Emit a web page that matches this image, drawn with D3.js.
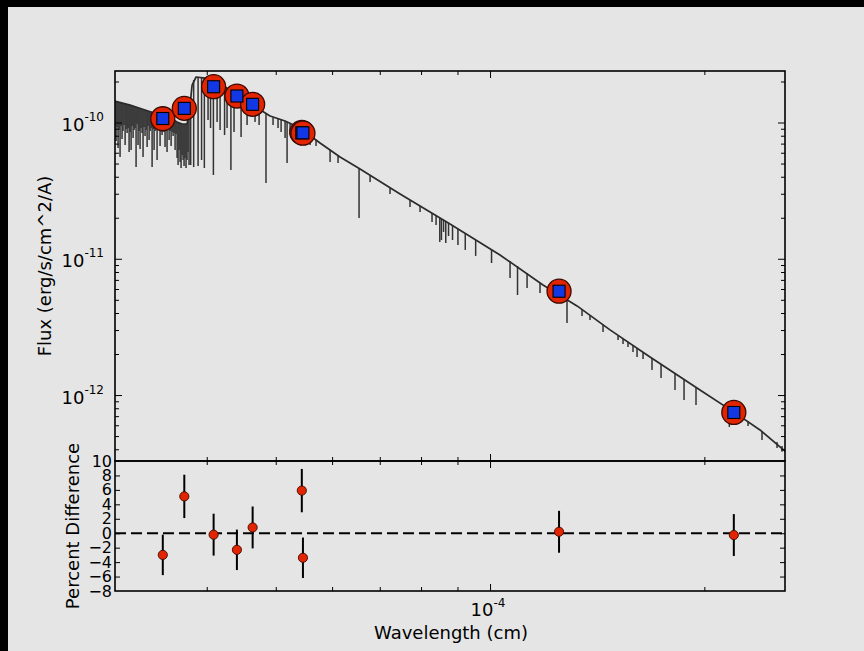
<!DOCTYPE html>
<html><head><meta charset="utf-8">
<script src="https://cdn.jsdelivr.net/npm/d3@7"></script>
<style>
html,body{margin:0;padding:0;overflow:hidden;background:#e5e5e5;width:864px;height:651px;}
svg{display:block;position:absolute;left:0;top:0;}
text{font-family:"DejaVu Sans","Bitstream Vera Sans",sans-serif;fill:#000;}
</style>
</head><body>
<svg id="chart" width="864" height="651"></svg>
<script>
// ---------------- data ----------------
// photometry (wavelength in cm, flux in erg/s/cm^2/A)
const photWave  = [3.47e-5, 3.72e-5, 4.09e-5, 4.41e-5, 4.64e-5, 5.44e-5, 5.46e-5, 1.25e-4, 2.20e-4];
const obsFlux   = [1.066e-10, 1.271e-10, 1.831e-10, 1.564e-10, 1.36e-10, 8.45e-11, 8.35e-11, 5.78e-12, 7.45e-13];
const modelFlux = [1.07e-10, 1.27e-10, 1.83e-10, 1.565e-10, 1.36e-10, 8.40e-11, 8.40e-11, 5.78e-12, 7.45e-13];
// percent difference and its error
const residual  = [-3.0, 5.1, -0.2, -2.3, 0.8, 5.9, -3.4, 0.2, -0.25];
const residErr  = [2.8, 3.0, 2.9, 2.8, 2.9, 3.0, 2.8, 2.9, 2.9];

// model spectrum: continuum knots [log10 wavelength(cm), log10 flux]
const continuum = [
 [-4.5281,-9.842],[-4.5056,-9.872],[-4.4846,-9.908],[-4.4635,-9.945],[-4.4494,-9.967],
 [-4.4396,-9.996],[-4.4326,-10.011],[-4.4256,-10.011],[-4.4214,-9.872],[-4.4185,-9.725],
 [-4.4129,-9.666],[-4.4003,-9.674],[-4.3862,-9.703],[-4.3722,-9.740],[-4.3553,-9.791],
 [-4.3371,-9.850],[-4.3202,-9.916],[-4.3090,-9.952],[-4.2879,-9.989],[-4.2669,-10.040],
 [-4.2388,-10.150],[-4.2107,-10.253],[-4.1826,-10.341],[-4.1264,-10.525],[-4.0562,-10.745],
 [-3.9860,-10.972],[-3.9256,-11.192],[-3.8778,-11.346],[-3.8315,-11.522],[-3.7753,-11.721],
 [-3.7051,-11.963],[-3.6559,-12.131],[-3.6208,-12.256],[-3.5843,-12.418]
];
// absorption lines: [log10 wavelength, log10 flux at continuum, log10 flux at line core]
const absorptionLines = [
 [-4.5253,-9.846,-10.136],[-4.5239,-9.846,-10.033],[-4.5225,-9.850,-10.187],[-4.5211,-9.850,-10.055],
 [-4.5197,-9.853,-10.253],[-4.5183,-9.853,-10.026],[-4.5169,-9.857,-10.121],[-4.5155,-9.857,-10.062],
 [-4.5141,-9.861,-10.018],[-4.5126,-9.861,-10.165],[-4.5112,-9.864,-10.048],[-4.5098,-9.864,-10.077],
 [-4.5084,-9.868,-10.040],[-4.5070,-9.868,-10.216],[-4.5056,-9.872,-10.070],[-4.5042,-9.875,-10.202],
 [-4.5028,-9.875,-10.026],[-4.5014,-9.879,-10.114],[-4.5000,-9.879,-10.055],[-4.4986,-9.883,-10.040],
 [-4.4972,-9.886,-10.327],[-4.4958,-9.886,-10.011],[-4.4944,-9.890,-10.165],[-4.4930,-9.894,-10.062],
 [-4.4916,-9.894,-10.194],[-4.4902,-9.897,-10.040],[-4.4888,-9.901,-10.077],[-4.4874,-9.901,-10.253],
 [-4.4860,-9.905,-10.033],[-4.4846,-9.908,-10.099],[-4.4831,-9.908,-10.055],[-4.4817,-9.912,-10.180],
 [-4.4803,-9.916,-10.026],[-4.4789,-9.916,-10.128],[-4.4775,-9.919,-10.062],[-4.4761,-9.919,-10.040],
 [-4.4747,-9.923,-10.327],[-4.4733,-9.927,-10.048],[-4.4719,-9.927,-10.202],[-4.4705,-9.930,-10.062],
 [-4.4691,-9.930,-10.033],[-4.4677,-9.934,-10.275],[-4.4663,-9.938,-10.055],[-4.4649,-9.941,-10.040],
 [-4.4635,-9.945,-10.172],[-4.4621,-9.945,-10.062],[-4.4607,-9.949,-10.092],[-4.4593,-9.949,-10.040],
 [-4.4579,-9.952,-10.070],[-4.4565,-9.956,-10.180],[-4.4551,-9.960,-10.055],[-4.4537,-9.960,-10.216],
 [-4.4522,-9.963,-10.048],[-4.4508,-9.967,-10.128],[-4.4494,-9.967,-10.062],[-4.4480,-9.971,-10.172],
 [-4.4466,-9.974,-10.070],[-4.4452,-9.978,-10.099],[-4.4438,-9.982,-10.077],[-4.4424,-9.989,-10.202],
 [-4.4410,-9.993,-10.084],
 [-4.4396,-9.996,-10.260],[-4.4382,-10.000,-10.312],[-4.4368,-10.004,-10.202],[-4.4354,-10.004,-10.290],
 [-4.4340,-10.007,-10.334],[-4.4326,-10.011,-10.238],[-4.4312,-10.011,-10.275],[-4.4298,-10.011,-10.319],
 [-4.4284,-10.011,-10.260],[-4.4270,-10.011,-10.334],[-4.4256,-10.011,-10.275],[-4.4242,-9.967,-10.216],
 [-4.4228,-9.916,-10.312],
 [-4.4205,-9.835,-10.312],[-4.4163,-9.688,-10.327],[-4.4101,-9.666,-10.319],[-4.4052,-9.670,-10.275],
 [-4.4013,-9.674,-10.334],[-4.3961,-9.681,-9.982],[-4.3926,-9.688,-10.040],[-4.3886,-9.696,-10.385],
 [-4.3834,-9.710,-9.996],[-4.3792,-9.721,-10.055],[-4.3729,-9.736,-10.092],[-4.3694,-9.747,-10.040],
 [-4.3640,-9.762,-10.349],[-4.3596,-9.776,-10.070],[-4.3497,-9.813,-10.106],[-4.3413,-9.835,-10.018],
 [-4.3301,-9.872,-9.996],[-4.3244,-9.894,-10.018],[-4.3147,-9.938,-10.444],[-4.3048,-9.963,-10.018],
 [-4.2978,-9.974,-10.040],[-4.2935,-9.982,-10.070],[-4.2879,-9.989,-10.114],[-4.2851,-9.996,-10.297],
 [-4.2809,-10.004,-10.092],[-4.2725,-10.026,-10.128],[-4.2598,-10.062,-10.143],[-4.2528,-10.092,-10.165],
 [-4.2444,-10.128,-10.172],[-4.2247,-10.202,-10.290],[-4.2135,-10.246,-10.297],[-4.1840,-10.334,-10.701],
 [-4.1685,-10.389,-10.437],[-4.1405,-10.481,-10.525],[-4.1124,-10.569,-10.620],[-4.0983,-10.613,-10.657],
 [-4.0815,-10.664,-10.730],[-4.0758,-10.682,-10.752],[-4.0706,-10.701,-10.877],[-4.0683,-10.708,-10.862],
 [-4.0653,-10.715,-10.803],[-4.0622,-10.726,-10.884],[-4.0583,-10.737,-10.833],[-4.0527,-10.756,-10.862],
 [-4.0451,-10.781,-10.899],[-4.0348,-10.814,-10.935],[-4.0202,-10.862,-10.979],[-3.9979,-10.932,-11.031],
 [-3.9719,-11.016,-11.141],[-3.9614,-11.053,-11.266],[-3.9480,-11.104,-11.214],[-3.9298,-11.178,-11.251],
 [-3.8919,-11.299,-11.471],[-3.8708,-11.376,-11.420],[-3.8596,-11.416,-11.449],[-3.8413,-11.486,-11.537],
 [-3.8202,-11.563,-11.596],[-3.8132,-11.588,-11.625],[-3.8062,-11.610,-11.647],[-3.7992,-11.636,-11.684],
 [-3.7935,-11.654,-11.720],[-3.7851,-11.684,-11.735],[-3.7725,-11.731,-11.816],[-3.7598,-11.776,-11.875],
 [-3.7402,-11.842,-11.963],[-3.7275,-11.886,-12.036],[-3.7107,-11.944,-12.073],[-3.6639,-12.102,-12.234],
 [-3.6376,-12.194,-12.227],[-3.6180,-12.267,-12.329],[-3.5969,-12.344,-12.388],[-3.5899,-12.373,-12.417]
];

// axes
const waveDomain  = [2.973e-5, 2.596e-4];
const fluxDomain  = [3.281e-13, 2.388e-10];
const residDomain = [-8, 10];
const xMajorTicks = [1e-4];
const xMinorTicks = [4e-5, 5e-5, 6e-5, 7e-5, 8e-5, 9e-5, 2e-4];
const xTickLabels = [["10","-4"]];
const yMajorTicks = [1e-12, 1e-11, 1e-10];
const yTickLabels = [["10","-12"],["10","-11"],["10","-10"]];
const yMinorTicks = [4e-13,5e-13,6e-13,7e-13,8e-13,9e-13,
                     2e-12,3e-12,4e-12,5e-12,6e-12,7e-12,8e-12,9e-12,
                     2e-11,3e-11,4e-11,5e-11,6e-11,7e-11,8e-11,9e-11,2e-10];
const residTicks = [-8, -6, -4, -2, 0, 2, 4, 6, 8, 10];

// ---------------- drawing ----------------
const L = 115, R = 785, T = 71, M = 461, B = 591;
const RED = "#e32400", BLUE = "#1238e6";
const svg = d3.select("#chart");
svg.append("rect").attr("x", 0).attr("y", 0).attr("width", 864).attr("height", 651).attr("fill", "#e5e5e5");
svg.append("rect").attr("x", 0).attr("y", 0).attr("width", 864).attr("height", 7).attr("fill", "#000");
svg.append("rect").attr("x", 0).attr("y", 0).attr("width", 8).attr("height", 651).attr("fill", "#000");

const x  = d3.scaleLog().domain(waveDomain).range([L, R]);
const y  = d3.scaleLog().domain(fluxDomain).range([M, T]);
const yr = d3.scaleLinear().domain(residDomain).range([B, M]);

const defs = svg.append("defs");
defs.append("clipPath").attr("id", "clipTop").append("rect").attr("x", L).attr("y", T).attr("width", R - L).attr("height", M - T);
defs.append("clipPath").attr("id", "clipBot").append("rect").attr("x", L).attr("y", M).attr("width", R - L).attr("height", B - M);

// spectrum
const spec = svg.append("g").attr("clip-path", "url(#clipTop)");
const lineGen = d3.line().x(d => x(Math.pow(10, d[0]))).y(d => y(Math.pow(10, d[1])));
spec.selectAll("line.abs").data(absorptionLines).join("line").attr("class", "abs")
  .attr("x1", d => x(Math.pow(10, d[0]))).attr("x2", d => x(Math.pow(10, d[0])))
  .attr("y1", d => y(Math.pow(10, d[1]))).attr("y2", d => y(Math.pow(10, d[2])))
  .attr("stroke", "#333").attr("stroke-width", 1.5);
spec.append("path").datum(continuum).attr("d", lineGen)
  .attr("fill", "none").attr("stroke", "#2b2b2b").attr("stroke-width", 1.7).attr("stroke-linejoin", "round");

// photometry markers
const phot = photWave.map((w, i) => ({w, o: obsFlux[i], m: modelFlux[i], r: residual[i], e: residErr[i]}));
svg.append("g").selectAll("circle").data(phot).join("circle")
  .attr("cx", d => x(d.w)).attr("cy", d => y(d.o)).attr("r", 12)
  .attr("fill", RED).attr("stroke", "#3a0a00").attr("stroke-width", 1.3);
svg.append("g").selectAll("rect").data(phot).join("rect")
  .attr("x", d => x(d.w) - 6).attr("y", d => y(d.m) - 6).attr("width", 12).attr("height", 12)
  .attr("fill", BLUE).attr("stroke", "#000").attr("stroke-width", 1.1);

// residual panel
const bot = svg.append("g").attr("clip-path", "url(#clipBot)");
bot.append("line").attr("x1", L).attr("x2", R).attr("y1", yr(0)).attr("y2", yr(0))
  .attr("stroke", "#000").attr("stroke-width", 2).attr("stroke-dasharray", "11,5");
bot.selectAll("line.err").data(phot).join("line").attr("class", "err")
  .attr("x1", d => x(d.w)).attr("x2", d => x(d.w))
  .attr("y1", d => yr(d.r - d.e)).attr("y2", d => yr(d.r + d.e))
  .attr("stroke", "#000").attr("stroke-width", 2);
bot.selectAll("circle").data(phot).join("circle")
  .attr("cx", d => x(d.w)).attr("cy", d => yr(d.r)).attr("r", 4.6)
  .attr("fill", RED).attr("stroke", "#3a0a00").attr("stroke-width", 0.9);

// ticks via d3 axes (inward)
function ticks(axisFn, scale, vals, size, tx, ty) {
  const ax = axisFn(scale).tickValues(vals).tickSize(-size).tickFormat("");
  const g = svg.append("g").attr("transform", `translate(${tx},${ty})`).call(ax);
  g.select(".domain").remove();
  g.selectAll(".tick line").attr("stroke", "#000").attr("stroke-width", 1);
  g.selectAll(".tick text").remove();
  return g;
}
// top panel
ticks(d3.axisLeft,  y, yMajorTicks, 7, L, 0);
ticks(d3.axisLeft,  y, yMinorTicks, 4, L, 0);
ticks(d3.axisRight, y, yMajorTicks, 7, R, 0);
ticks(d3.axisRight, y, yMinorTicks, 4, R, 0);
ticks(d3.axisTop,    x, xMajorTicks, 7, 0, T);
ticks(d3.axisTop,    x, xMinorTicks, 4, 0, T);
ticks(d3.axisBottom, x, xMajorTicks, 7, 0, M);
ticks(d3.axisBottom, x, xMinorTicks, 4, 0, M);
// bottom panel
ticks(d3.axisTop,    x, xMajorTicks, 7, 0, M);
ticks(d3.axisTop,    x, xMinorTicks, 4, 0, M);
ticks(d3.axisBottom, x, xMajorTicks, 7, 0, B);
ticks(d3.axisBottom, x, xMinorTicks, 4, 0, B);
ticks(d3.axisLeft,  yr, residTicks.filter(v => v > -8 && v < 10), 5, L, 0);
ticks(d3.axisRight, yr, residTicks.filter(v => v > -8 && v < 10), 5, R, 0);

// frames
svg.append("rect").attr("x", L).attr("y", T).attr("width", R - L).attr("height", M - T)
  .attr("fill", "none").attr("stroke", "#000").attr("stroke-width", 1.6);
svg.append("rect").attr("x", L).attr("y", M).attr("width", R - L).attr("height", B - M)
  .attr("fill", "none").attr("stroke", "#000").attr("stroke-width", 1.6);

// tick labels with superscripts
function supLabel(xp, yp, anchor, parts, big, small, raise) {
  const t = svg.append("text").attr("x", xp).attr("y", yp).attr("text-anchor", anchor);
  t.append("tspan").attr("font-size", big).text(parts[0]);
  t.append("tspan").attr("font-size", small).attr("dy", -raise).text(parts[1]);
}
yMajorTicks.forEach((v, i) => supLabel(104, y(v) + 8.5, "end", yTickLabels[i], 18, 12, 10));
xMajorTicks.forEach((v, i) => supLabel(x(v) - 2, 615.5, "middle", xTickLabels[i], 18, 12, 9));

// residual tick labels (crowded, as in the original)
svg.append("g").selectAll("text").data(residTicks).join("text")
  .attr("x", 112).attr("y", d => yr(d) + 5.5).attr("text-anchor", "end")
  .attr("font-size", 16).text(d => d3.format("d")(d));

// axis titles
svg.append("text").attr("transform", `translate(51,266) rotate(-90)`).attr("text-anchor", "middle")
  .attr("font-size", 18).text("Flux (erg/s/cm^2/A)");
svg.append("text").attr("transform", `translate(79,526) rotate(-90)`).attr("text-anchor", "middle")
  .attr("font-size", 18).text("Percent Difference");
svg.append("text").attr("x", 451).attr("y", 639).attr("text-anchor", "middle")
  .attr("font-size", 18).text("Wavelength (cm)");
</script>
</body></html>
